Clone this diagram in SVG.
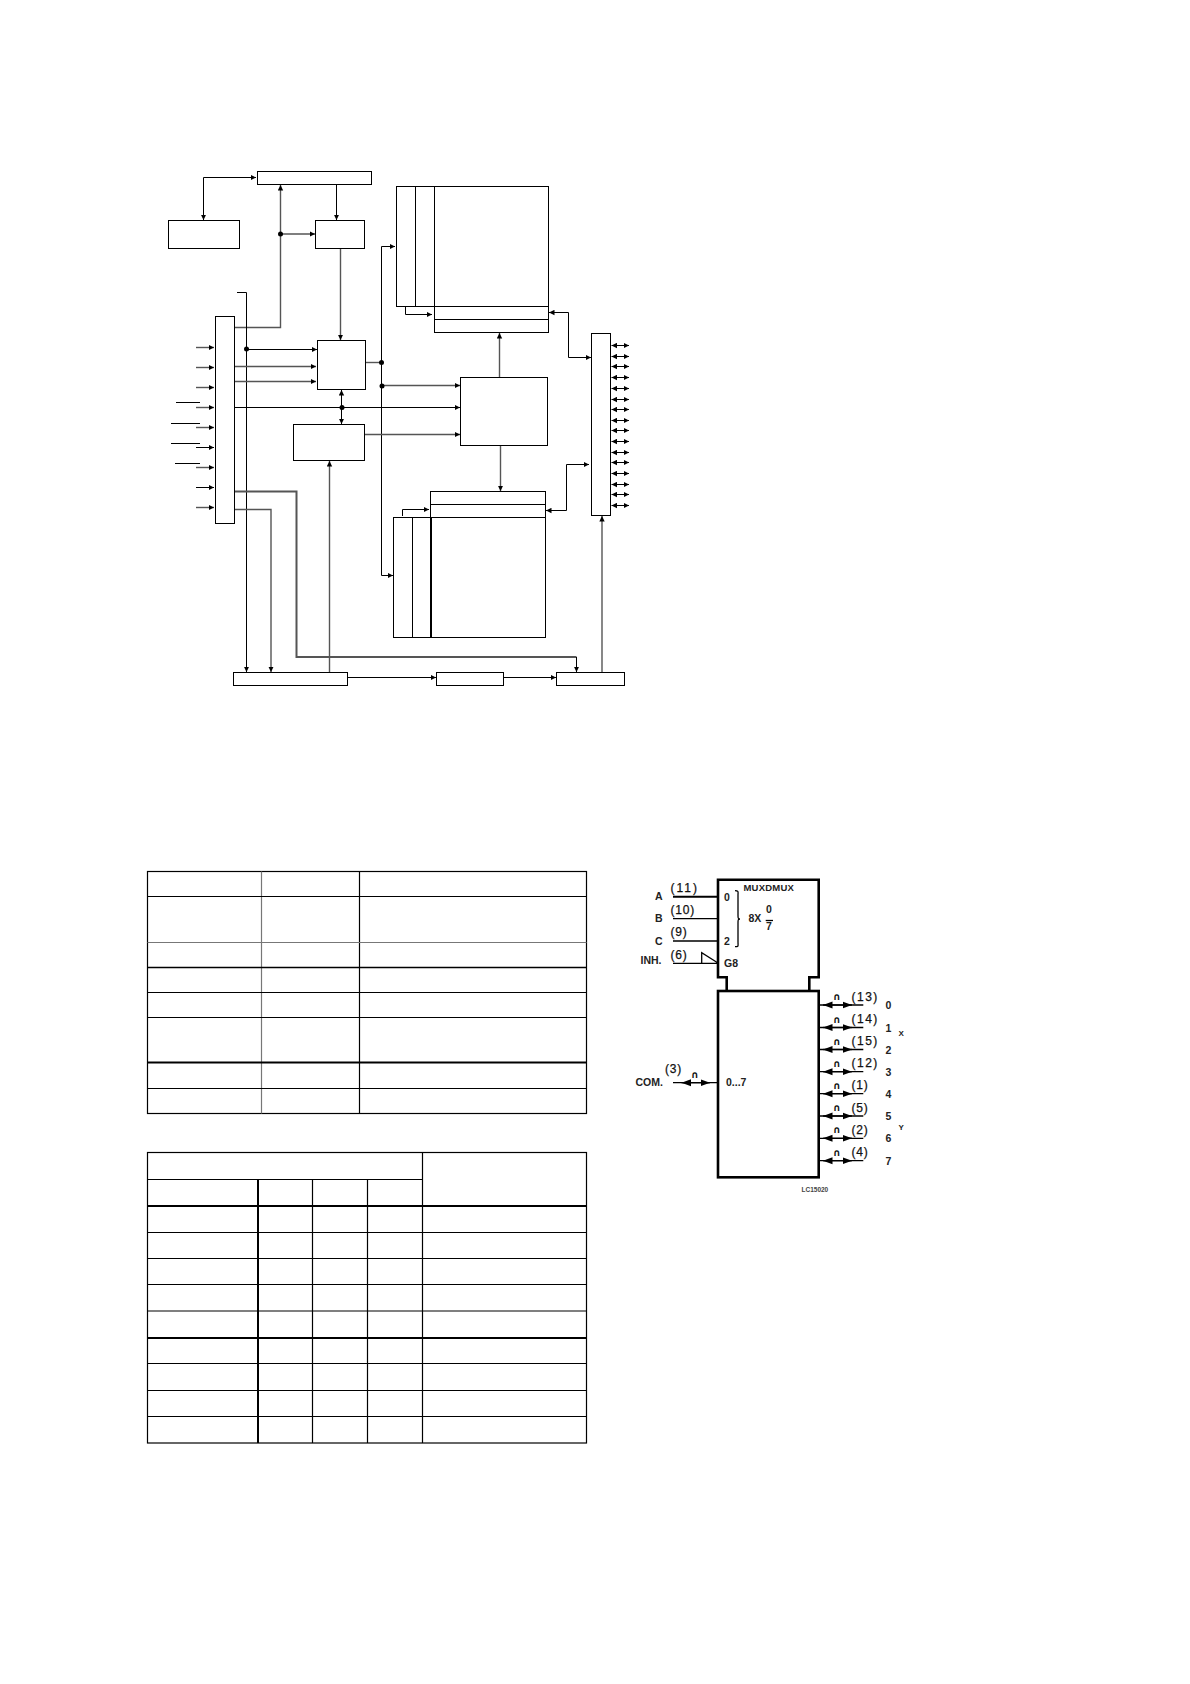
<svg xmlns="http://www.w3.org/2000/svg" width="1190" height="1684" viewBox="0 0 1190 1684">
<style>
.n{fill:#fff;stroke:#000;stroke-width:1}
.l{fill:none;stroke:#000;stroke-width:1}
.g{fill:none;stroke:#555;stroke-width:1.4}
.d{fill:#000}
.t{fill:none;stroke:#000;stroke-width:1.2}
.tt{fill:none;stroke:#000;stroke-width:2}
.tg{fill:none;stroke:#777;stroke-width:1.2}
.s{fill:none;stroke:#000;stroke-width:2.6}
.p{fill:none;stroke:#000;stroke-width:1.3}
text{font-family:"Liberation Sans",Arial,sans-serif;font-size:10.5px;font-weight:bold;fill:#222}
.sm{font-size:6.5px;fill:#444}
.pn{font-size:12px;font-weight:normal;fill:#111;stroke:#111;stroke-width:.25;letter-spacing:.8px}
.c{font-family:"DejaVu Sans",sans-serif;font-size:10px;font-weight:bold;fill:#111;text-anchor:middle}
</style>
<defs>
<marker id="a" markerUnits="userSpaceOnUse" markerWidth="6" markerHeight="6" refX="5.5" refY="3" orient="auto-start-reverse"><path d="M0 .3L5.5 3L0 5.7z" fill="#000"/></marker>
<marker id="b" markerUnits="userSpaceOnUse" markerWidth="10" markerHeight="8" refX="9.5" refY="4" orient="auto-start-reverse"><path d="M0 .5L9.5 4L0 7.5z" fill="#000"/></marker>
</defs>
<rect width="1190" height="1684" fill="#fff"/>

<g id="connectors">
<path class="l" marker-end="url(#a)" marker-start="url(#a)" d="M256 177.5H203.5V220"/>
<path class="g" marker-end="url(#a)" d="M234.5 327.5H280.5V185"/>
<path class="g" marker-end="url(#a)" d="M280.5 234H315"/>
<path class="l" marker-end="url(#a)" d="M336.5 184.5V220"/>
<path class="g" marker-end="url(#a)" d="M340.5 248.5V340"/>
<path class="l" marker-end="url(#a)" d="M237 292.5H246.5V672"/>
<path class="l" marker-end="url(#a)" d="M246.5 349.5H317"/>
<path class="g" marker-end="url(#a)" d="M234.5 366.5H316"/>
<path class="g" marker-end="url(#a)" d="M234.5 381.5H316"/>
<path class="l" marker-end="url(#a)" d="M234.5 407.5H460"/>
<path class="l" marker-end="url(#a)" marker-start="url(#a)" d="M341.5 390V424"/>
<path class="g" marker-end="url(#a)" d="M196 347.5H214"/>
<path class="g" marker-end="url(#a)" d="M196 367.5H214"/>
<path class="g" marker-end="url(#a)" d="M196 387.5H214"/>
<path class="g" marker-end="url(#a)" d="M196 407.5H214"/>
<path class="g" marker-end="url(#a)" d="M196 427.5H214"/>
<path class="l" marker-end="url(#a)" d="M196 447.5H214"/>
<path class="g" marker-end="url(#a)" d="M196 467.5H214"/>
<path class="l" marker-end="url(#a)" d="M196 487.5H214"/>
<path class="g" marker-end="url(#a)" d="M196 507.5H214"/>
<path class="l" d="M176 402.5H200M171 423.5H200M171 443.5H200M175 463.5H200"/>
<path class="l" marker-start="url(#a)" marker-end="url(#a)" d="M395 246.5H381.5V575.5H393"/>
<path class="g" d="M365.5 362.5H381.5"/>
<path class="g" marker-end="url(#a)" d="M382 385.5H460"/>
<path class="g" marker-end="url(#a)" d="M364.5 434.5H460"/>
<path class="g" style="stroke-width:2" d="M234.5 491.5H296.5V657H576.5"/>
<path class="l" marker-end="url(#a)" d="M576.5 657V672"/>
<path class="g" marker-end="url(#a)" d="M234.5 509.5H271V672"/>
<path class="g" marker-end="url(#a)" d="M329.5 672.5V461"/>
<path class="l" marker-end="url(#a)" d="M347.5 677.5H436"/>
<path class="l" marker-end="url(#a)" d="M503.5 677.5H556"/>
<path class="g" marker-end="url(#a)" d="M602 672.5V516"/>
<path class="l" marker-end="url(#a)" d="M405.5 306.5V314.5H432"/>
<path class="l" marker-start="url(#a)" marker-end="url(#a)" d="M549 312.5H568.5V357.5H591"/>
<path class="g" marker-end="url(#a)" d="M499.5 377.5V333"/>
<path class="g" marker-end="url(#a)" d="M500.5 445.5V491"/>
<path class="l" marker-start="url(#a)" marker-end="url(#a)" d="M546 510.5H566.5V464.5H589"/>
<path class="l" marker-end="url(#a)" d="M402.5 516V509.5H429"/>
<g class="pins">
<path class="l" marker-start="url(#a)" marker-end="url(#a)" d="M611.5 345.5H629"/>
<path class="l" marker-start="url(#a)" marker-end="url(#a)" d="M611.5 356.5H629"/>
<path class="l" marker-start="url(#a)" marker-end="url(#a)" d="M611.5 366.5H629"/>
<path class="l" marker-start="url(#a)" marker-end="url(#a)" d="M611.5 377.5H629"/>
<path class="l" marker-start="url(#a)" marker-end="url(#a)" d="M611.5 388.5H629"/>
<path class="l" marker-start="url(#a)" marker-end="url(#a)" d="M611.5 399.5H629"/>
<path class="l" marker-start="url(#a)" marker-end="url(#a)" d="M611.5 409.5H629"/>
<path class="l" marker-start="url(#a)" marker-end="url(#a)" d="M611.5 420.5H629"/>
<path class="l" marker-start="url(#a)" marker-end="url(#a)" d="M611.5 430.5H629"/>
<path class="l" marker-start="url(#a)" marker-end="url(#a)" d="M611.5 441.5H629"/>
<path class="l" marker-start="url(#a)" marker-end="url(#a)" d="M611.5 452.5H629"/>
<path class="l" marker-start="url(#a)" marker-end="url(#a)" d="M611.5 462.5H629"/>
<path class="l" marker-start="url(#a)" marker-end="url(#a)" d="M611.5 473.5H629"/>
<path class="l" marker-start="url(#a)" marker-end="url(#a)" d="M611.5 484.5H629"/>
<path class="l" marker-start="url(#a)" marker-end="url(#a)" d="M611.5 494.5H629"/>
<path class="l" marker-start="url(#a)" marker-end="url(#a)" d="M611.5 505.5H629"/>
</g>
<circle class="d" cx="280.5" cy="234" r="2.5"/>
<circle class="d" cx="246.5" cy="349" r="2.5"/>
<circle class="d" cx="342" cy="407.5" r="2.5"/>
<circle class="d" cx="381.5" cy="362.5" r="2.5"/>
<circle class="d" cx="382" cy="386" r="2.5"/>
</g>

<g id="node-top-bar"><rect class="n" x="257.5" y="171.5" width="114" height="13"/></g>
<g id="node-left-box"><rect class="n" x="168.5" y="220.5" width="71" height="28"/></g>
<g id="node-small-box"><rect class="n" x="315.5" y="220.5" width="49" height="28"/></g>
<g id="node-input-column"><rect class="n" x="215.5" y="316.5" width="19" height="207"/></g>
<g id="node-control"><rect class="n" x="317.5" y="340.5" width="48" height="49"/></g>
<g id="node-lower-control"><rect class="n" x="293.5" y="424.5" width="71" height="36"/></g>
<g id="node-center"><rect class="n" x="460.5" y="377.5" width="87" height="68"/></g>
<g id="node-upper-memory">
<rect class="n" x="396.5" y="186.5" width="152" height="120"/>
<path class="l" d="M415.5 186.5V306.5M434.5 186.5V306.5"/>
<rect class="n" x="434.5" y="306.5" width="114" height="13"/>
<rect class="n" x="434.5" y="319.5" width="114" height="13"/>
</g>
<g id="node-lower-memory">
<rect class="n" x="430.5" y="491.5" width="115" height="13"/>
<rect class="n" x="430.5" y="504.5" width="115" height="13"/>
<rect class="n" x="393.5" y="517.5" width="152" height="120"/>
<path class="l" d="M412.5 517.5V637.5"/>
<path class="l" style="stroke-width:2" d="M431 517.5V637.5"/>
</g>
<g id="node-io-column"><rect class="n" x="591.5" y="333.5" width="19" height="182"/></g>
<g id="node-bottom-left"><rect class="n" x="233.5" y="672.5" width="114" height="13"/></g>
<g id="node-bottom-mid"><rect class="n" x="436.5" y="672.5" width="67" height="13"/></g>
<g id="node-bottom-right"><rect class="n" x="556.5" y="672.5" width="68" height="13"/></g>

<g id="table-1">
<rect class="t" x="147.5" y="871.5" width="439" height="242"/>
<path class="tg" d="M261.5 871.5V1113.5"/>
<path class="t" d="M359.5 871.5V1113.5"/>
<path class="t" d="M147.5 896.5H586.5M147.5 992.5H586.5M147.5 1017.5H586.5M147.5 1088.5H586.5"/>
<path class="tg" d="M147.5 942.5H586.5"/>
<path class="t" style="stroke-width:1.6" d="M147.5 967.5H586.5"/>
<path class="tt" d="M147.5 1062.5H586.5"/>
</g>

<g id="table-2">
<rect class="t" x="147.5" y="1152.5" width="439" height="290.5"/>
<path class="tt" d="M258 1179.5V1443"/>
<path class="t" d="M312.5 1179.5V1443M367.5 1179.5V1443M422.5 1152.5V1443M147.5 1179.5H422.5"/>
<path class="tt" d="M147.5 1206H586.5M147.5 1338H586.5"/>
<path class="t" d="M147.5 1232.5H586.5M147.5 1258.5H586.5M147.5 1284.5H586.5M147.5 1311H586.5M147.5 1363.5H586.5M147.5 1390.5H586.5M147.5 1416.5H586.5"/>
</g>

<g id="node-muxdmux">
<path class="s" d="M726.7 991V977.3H718V879.7H818.7V977.3H809.3V991"/>
<rect class="s" x="718" y="991" width="100.7" height="186.3"/>
<path class="s" style="stroke-width:2" d="M673 896.7H718"/>
<path class="p" d="M673 918.7H718M673 941H718M673 963.3H718M701.7 963V952.7L718 963"/>
<path class="p" d="M735 890.7C739 890.7 738 892 738 895V915C738 918 738 919 740 919C738 919 738 920 738 923V942C738 946 739 946.7 735 946.7"/>
<text x="655" y="900">A</text>
<text x="655" y="922">B</text>
<text x="655" y="944.5">C</text>
<text x="640.5" y="964">INH.</text>
<text class="pn" x="670.5" y="892" style="letter-spacing:2px">(11)</text>
<text class="pn" x="670.5" y="914">(10)</text>
<text class="pn" x="670.5" y="936">(9)</text>
<text class="pn" x="670.5" y="958.5">(6)</text>
<text x="743.5" y="891" style="font-size:9.5px;letter-spacing:.2px">MUXDMUX</text>
<text x="724" y="900.5">0</text>
<text x="724" y="945">2</text>
<text x="724" y="967">G8</text>
<text x="748.5" y="922">8X</text>
<text x="766" y="913">0</text>
<path class="p" d="M765.7 920.5H773"/>
<text x="766" y="929.5">7</text>
<text x="726" y="1086">0...7</text>
</g>

<g id="schematic-pins">
<path class="p" d="M673 1082.7H718"/>
<path class="p" marker-start="url(#b)" marker-end="url(#b)" d="M681.5 1082.7H710"/>
<text class="pn" x="665" y="1073">(3)</text>
<text x="635.5" y="1086">COM.</text>
<text class="c" x="694.7" y="1078">∩</text>
<g>
<path class="p" d="M818.7 1005H863.3"/><path class="p" marker-start="url(#b)" marker-end="url(#b)" d="M823 1005H852"/><text class="c" x="836.7" y="1000">∩</text><text class="pn" x="851.5" y="1000.5" style="letter-spacing:1.5px">(13)</text><text x="885.5" y="1009">0</text>
<path class="p" d="M818.7 1027.5H863.3"/><path class="p" marker-start="url(#b)" marker-end="url(#b)" d="M823 1027.5H852"/><text class="c" x="836.7" y="1022.5">∩</text><text class="pn" x="851.5" y="1023" style="letter-spacing:1.5px">(14)</text><text x="885.5" y="1031.5">1</text>
<path class="p" d="M818.7 1049.5H863.3"/><path class="p" marker-start="url(#b)" marker-end="url(#b)" d="M823 1049.5H852"/><text class="c" x="836.7" y="1044.5">∩</text><text class="pn" x="851.5" y="1045" style="letter-spacing:1.5px">(15)</text><text x="885.5" y="1053.5">2</text>
<path class="p" d="M818.7 1071.7H863.3"/><path class="p" marker-start="url(#b)" marker-end="url(#b)" d="M823 1071.7H852"/><text class="c" x="836.7" y="1066.7">∩</text><text class="pn" x="851.5" y="1067.2" style="letter-spacing:1.5px">(12)</text><text x="885.5" y="1075.7">3</text>
<path class="p" d="M818.7 1093.7H863.3"/><path class="p" marker-start="url(#b)" marker-end="url(#b)" d="M823 1093.7H852"/><text class="c" x="836.7" y="1088.7">∩</text><text class="pn" x="851.5" y="1089.2">(1)</text><text x="885.5" y="1097.7">4</text>
<path class="p" d="M818.7 1116H863.3"/><path class="p" marker-start="url(#b)" marker-end="url(#b)" d="M823 1116H852"/><text class="c" x="836.7" y="1111">∩</text><text class="pn" x="851.5" y="1111.5">(5)</text><text x="885.5" y="1120">5</text>
<path class="p" d="M818.7 1138.3H863.3"/><path class="p" marker-start="url(#b)" marker-end="url(#b)" d="M823 1138.3H852"/><text class="c" x="836.7" y="1133.3">∩</text><text class="pn" x="851.5" y="1133.8">(2)</text><text x="885.5" y="1142.3">6</text>
<path class="p" d="M818.7 1160.7H863.3"/><path class="p" marker-start="url(#b)" marker-end="url(#b)" d="M823 1160.7H852"/><text class="c" x="836.7" y="1155.7">∩</text><text class="pn" x="851.5" y="1156.2">(4)</text><text x="885.5" y="1164.7">7</text>
</g>
<text x="898.5" y="1036" style="font-size:8px">X</text>
<text x="898.5" y="1130" style="font-size:8px">Y</text>
<text class="sm" x="801.5" y="1192">LC15020</text>
</g>
</svg>
